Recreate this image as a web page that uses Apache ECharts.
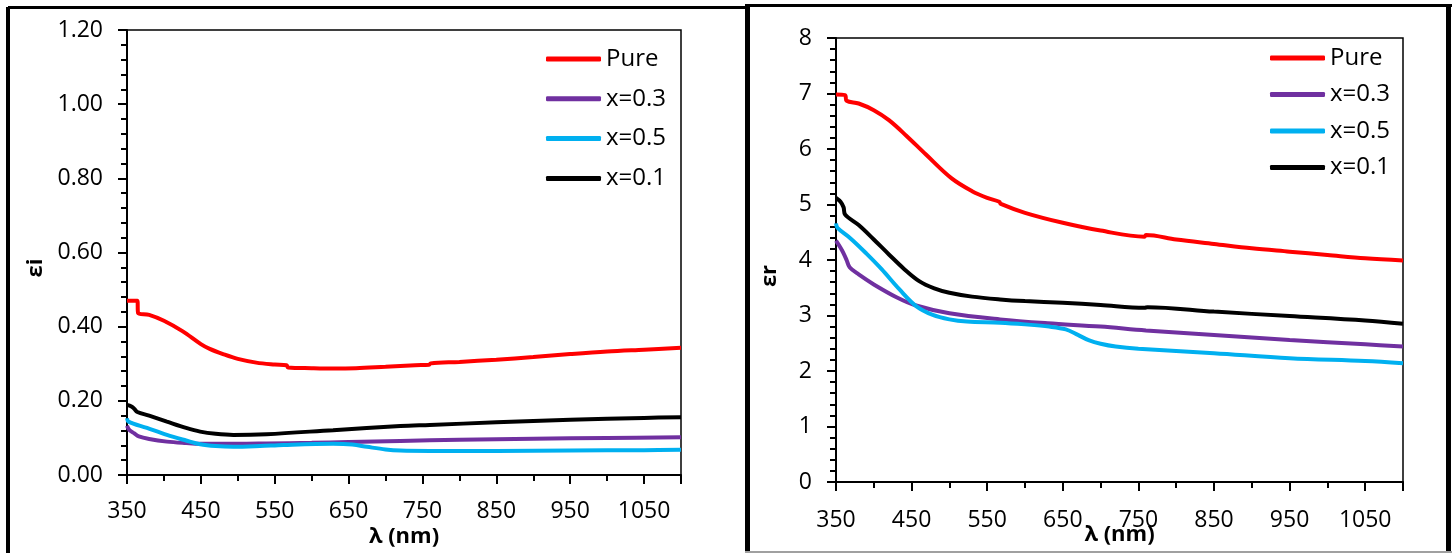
<!DOCTYPE html>
<html>
<head>
<meta charset="utf-8">
<script src="https://cdn.jsdelivr.net/npm/echarts@6/dist/echarts.min.js"></script>
<style>html,body{margin:0;padding:0;background:#fff}#c{width:1456px;height:553px}</style>
</head>
<body>
<div id="c"></div>
<script>
// ---- Data ----
const seriesNames = ['Pure', 'x=0.3', 'x=0.5', 'x=0.1'];
const seriesColors = ['#FF0000', '#7030A0', '#00B0F0', '#000000'];

// Left chart: εi vs λ (nm)
const eiPureX = [350,364,365,380,400,425,450,462,480,500,525,550,566,568,600,630,660,700,740,759,761,800,850,900,950,1000,1050,1100];
const eiPureY = [0.47,0.47,0.437,0.432,0.416,0.388,0.353,0.340,0.326,0.313,0.303,0.298,0.296,0.290,0.288,0.287,0.288,0.292,0.296,0.297,0.301,0.305,0.311,0.318,0.326,0.333,0.338,0.343];
const ei03X = [350,353,360,366,380,404,430,449,500,539,600,650,720,800,900,1000,1100];
const ei03Y = [0.133,0.122,0.112,0.104,0.097,0.090,0.086,0.084,0.084,0.085,0.087,0.089,0.092,0.095,0.098,0.100,0.102];
const ei05X = [350,352,377,404,430,449,470,494,530,562,629,655,675,700,720,760,850,950,1050,1100];
const ei05Y = [0.153,0.144,0.127,0.108,0.093,0.083,0.078,0.076,0.078,0.081,0.084,0.082,0.076,0.069,0.066,0.065,0.065,0.066,0.067,0.068];
const ei01X = [350,356,360,364,380,404,430,449,470,494,539,629,720,760,850,950,1050,1100];
const ei01Y = [0.189,0.185,0.178,0.170,0.160,0.144,0.127,0.117,0.111,0.108,0.110,0.121,0.132,0.135,0.142,0.149,0.154,0.156];

// Right chart: εr vs λ (nm)
const erPureX = [350,362,364,380,400,420,443,469,503,530,550,566,568,600,650,700,758,760,800,850,900,950,1000,1050,1100];
const erPureY = [6.98,6.97,6.87,6.82,6.70,6.52,6.24,5.90,5.47,5.24,5.12,5.05,5.01,4.85,4.67,4.53,4.42,4.45,4.37,4.29,4.21,4.15,4.09,4.03,3.99];
const er03X = [350,356,360,364,368,380,400,430,456,500,567,630,700,760,850,950,1050,1100];
const er03Y = [4.35,4.22,4.12,4.00,3.87,3.74,3.56,3.33,3.18,3.04,2.93,2.86,2.80,2.73,2.65,2.56,2.48,2.44];
const er05X = [350,352,370,390,410,434,456,478,500,523,567,600,632,654,670,685,700,720,750,850,950,1050,1100];
const er05Y = [4.66,4.58,4.38,4.12,3.84,3.47,3.17,3.01,2.93,2.89,2.87,2.84,2.80,2.75,2.65,2.55,2.49,2.44,2.40,2.32,2.23,2.18,2.14];
const er01X = [350,356,360,362,380,400,420,440,460,480,500,530,567,600,650,700,758,762,850,950,1050,1100];
const er01Y = [5.12,5.05,4.95,4.82,4.63,4.37,4.10,3.84,3.62,3.49,3.41,3.34,3.29,3.26,3.23,3.19,3.14,3.15,3.07,2.99,2.91,2.85];

const xTitle = 'λ (nm)';
const leftYTitle = 'εi';
const rightYTitle = 'εr';

// ---- Build ----
const zip = (xs, ys) => xs.map((x, i) => [x, ys[i]]);
const leftData = [zip(eiPureX, eiPureY), zip(ei03X, ei03Y), zip(ei05X, ei05Y), zip(ei01X, ei01Y)];
const rightData = [zip(erPureX, erPureY), zip(er03X, er03Y), zip(er05X, er05Y), zip(er01X, er01Y)];

const FONT = '"Open Sans", "Liberation Sans", sans-serif';

function xAxisCfg(gi, margin, nameGap) {
  return {
    type: 'value', gridIndex: gi, min: 350, max: 1100, interval: 100,
    name: xTitle, nameLocation: 'middle', nameGap: nameGap, nameMoveOverlap: false,
    nameTextStyle: { fontFamily: FONT, fontSize: 22, fontWeight: 'bold', color: '#000' },
    axisLine: { show: true, lineStyle: { color: '#000', width: 2 } },
    axisTick: { show: true, inside: false, length: 9, lineStyle: { color: '#000', width: 2 } },
    minorTick: { show: true, splitNumber: 2, length: 6, lineStyle: { color: '#000', width: 2 } },
    axisLabel: { fontFamily: FONT, fontSize: 23, color: '#000', margin: margin, showMaxLabel: false, formatter: v => String(v) },
    splitLine: { show: false }
  };
}
function yAxisCfg(gi, max, interval, name, nameGap, namePad, fmt) {
  return {
    type: 'value', gridIndex: gi, min: 0, max: max, interval: interval,
    name: name, nameLocation: 'middle', nameGap: nameGap, nameRotate: 90, nameMoveOverlap: false,
    nameTextStyle: { fontFamily: FONT, fontSize: 22, fontWeight: 'bold', color: '#000', padding: [0, namePad, 0, 0] },
    axisLine: { show: true, lineStyle: { color: '#000', width: 2 } },
    axisTick: { show: true, inside: false, length: 9, lineStyle: { color: '#000', width: 2 } },
    minorTick: { show: true, splitNumber: 5, length: 6, lineStyle: { color: '#000', width: 2 } },
    axisLabel: { fontFamily: FONT, fontSize: 23, color: '#000', margin: 24, formatter: fmt },
    splitLine: { show: false }
  };
}
function legendCfg(left, top, gap) {
  return {
    orient: 'vertical', left: left, top: top, itemGap: gap, padding: 0,
    itemWidth: 55, itemHeight: 5, icon: 'roundRect',
    data: seriesNames,
    textStyle: { fontFamily: FONT, fontSize: 24, color: '#000', lineHeight: 22 }
  };
}

const series = [];
[leftData, rightData].forEach((set, gi) => {
  set.forEach((d, i) => {
    series.push({
      type: 'line', name: seriesNames[i], xAxisIndex: gi, yAxisIndex: gi,
      data: d, showSymbol: false, smooth: 0.35,
      lineStyle: { color: seriesColors[i], width: 4 },
      itemStyle: { color: seriesColors[i] }
    });
  });
});

const ln = (x1, y1, x2, y2, w, c) => ({ type: 'line', shape: { x1, y1, x2, y2 }, style: { stroke: c || '#000', lineWidth: w } });

const option = {
  animation: false,
  backgroundColor: '#fff',
  grid: [
    { left: 127, top: 30, width: 554, height: 445, outerBoundsMode: 'none', containLabel: false, show: true, borderColor: '#000', borderWidth: 1.5, backgroundColor: 'transparent' },
    { left: 836, top: 38, width: 567, height: 444, outerBoundsMode: 'none', containLabel: false, show: true, borderColor: '#000', borderWidth: 1.5, backgroundColor: 'transparent' }
  ],
  xAxis: [xAxisCfg(0, 25, 51), xAxisCfg(1, 27, 42)],
  yAxis: [
    yAxisCfg(0, 1.2, 0.2, leftYTitle, 80, 31, v => v.toFixed(2)),
    yAxisCfg(1, 8, 1, rightYTitle, 55, 32, v => String(v))
  ],
  legend: [legendCfg(546, 47, 15.8), legendCfg(1270, 46, 12.5)],
  series: series,
  graphic: [
    ln(8, 7, 8, 553, 4),
    ln(8, 7.5, 747, 7.5, 3),
    ln(747.5, 4, 747.5, 553, 5),
    ln(745, 5.5, 1452, 5.5, 3),
    ln(1448.5, 4, 1448.5, 552, 5),
    ln(745, 552, 1452, 552, 2, '#a0a0a0')
  ]
};

const chart = echarts.init(document.getElementById('c'), null, { renderer: 'canvas' });
chart.setOption(option);
</script>
</body>
</html>
